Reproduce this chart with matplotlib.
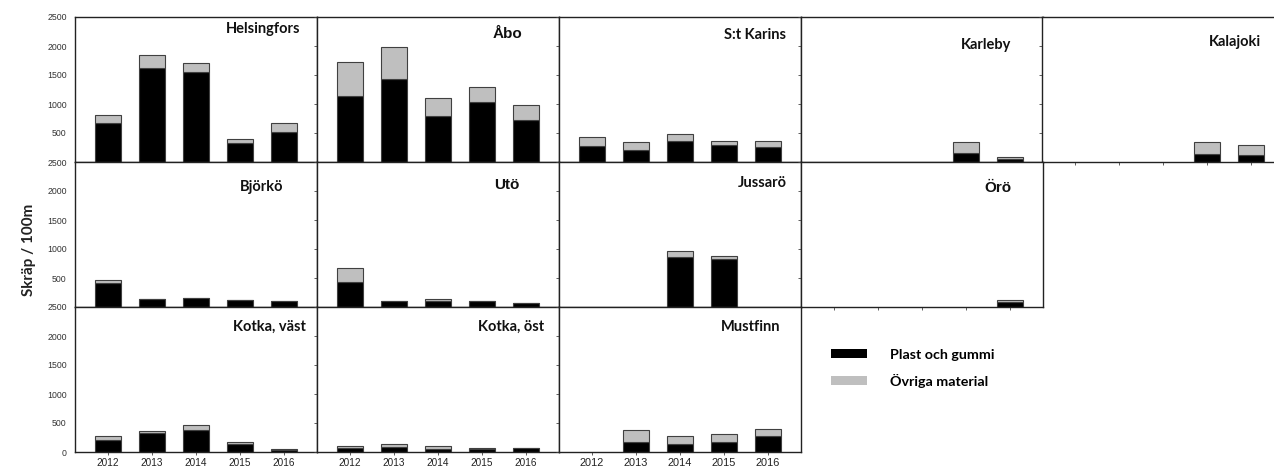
import matplotlib
matplotlib.use("Agg")
import matplotlib.pyplot as plt
from matplotlib.patches import Patch
import numpy as np

nan = np.nan

years = [2012, 2013, 2014, 2015, 2016]

# skräp per 100 m, black = plast och gummi, gray = övriga material
helsingfors_plast = [670, 1620, 1555, 330, 525]
helsingfors_ovriga = [145, 220, 160, 75, 145]
abo_plast = [1140, 1430, 800, 1035, 730]
abo_ovriga = [590, 555, 300, 250, 260]
st_karins_plast = [275, 200, 365, 300, 260]
st_karins_ovriga = [155, 145, 120, 60, 100]
karleby_plast = [nan, nan, nan, 160, 45]
karleby_ovriga = [nan, nan, nan, 185, 45]
kalajoki_plast = [nan, nan, nan, 145, 125]
kalajoki_ovriga = [nan, nan, nan, 200, 160]
bjorko_plast = [415, 130, 150, 115, 95]
bjorko_ovriga = [45, 8, 10, 6, 8]
uto_plast = [425, 100, 110, 100, 65]
uto_ovriga = [255, 5, 28, 5, 5]
jussaro_plast = [nan, nan, 860, 830, nan]
jussaro_ovriga = [nan, nan, 105, 50, nan]
oro_plast = [nan, nan, nan, nan, 85]
oro_ovriga = [nan, nan, nan, nan, 30]
kotka_vast_plast = [200, 325, 380, 130, 40]
kotka_vast_ovriga = [70, 35, 80, 50, 5]
kotka_ost_plast = [65, 90, 60, 55, 70]
kotka_ost_ovriga = [30, 55, 35, 20, 5]
mustfinn_plast = [nan, 180, 145, 180, 275]
mustfinn_ovriga = [nan, 200, 125, 125, 125]

# (name, plast, ovriga, row, col, title x, title y, title font)
panels = [
    ("Helsingfors", helsingfors_plast, helsingfors_ovriga, 0, 0, 0.93, 0.917, "Lato"),
    ("Åbo", abo_plast, abo_ovriga, 0, 1, 0.847, 0.88, "Liberation Sans"),
    ("S:t Karins", st_karins_plast, st_karins_ovriga, 0, 2, 0.94, 0.876, "Lato"),
    ("Karleby", karleby_plast, karleby_ovriga, 0, 3, 0.87, 0.807, "Lato"),
    ("Kalajoki", kalajoki_plast, kalajoki_ovriga, 0, 4, 0.905, 0.828, "Lato"),
    ("Björkö", bjorko_plast, bjorko_ovriga, 1, 0, 0.86, 0.828, "Lato"),
    ("Utö", uto_plast, uto_ovriga, 1, 1, 0.835, 0.84, "Liberation Sans"),
    ("Jussarö", jussaro_plast, jussaro_ovriga, 1, 2, 0.94, 0.855, "Lato"),
    ("Örö", oro_plast, oro_ovriga, 1, 3, 0.87, 0.82, "Liberation Sans"),
    ("Kotka, väst", kotka_vast_plast, kotka_vast_ovriga, 2, 0, 0.955, 0.862, "Lato"),
    ("Kotka, öst", kotka_ost_plast, kotka_ost_ovriga, 2, 1, 0.938, 0.862, "Lato"),
    ("Mustfinn", mustfinn_plast, mustfinn_ovriga, 2, 2, 0.913, 0.862, "Lato"),
]

W, H = 1274, 468
fig = plt.figure(figsize=(W / 100, H / 100), dpi=100)

col_left = [75, 317, 559, 801, 1042]
row_top = [17, 162, 307]
pw, ph = 242, 145

black = "#000000"
gray = "#bfbfbf"
edge = "#404040"

for name, plast, ovriga, r, c, tx, ty, tfont in panels:
    ax = fig.add_axes([col_left[c] / W, 1 - (row_top[r] + ph) / H, pw / W, ph / H])
    x = np.arange(len(years))
    p = np.array(plast, dtype=float)
    o = np.array(ovriga, dtype=float)
    ok = ~np.isnan(p)
    ax.bar(x[ok], p[ok], width=0.6, color=black, edgecolor=edge, linewidth=0.8)
    ax.bar(x[ok], o[ok], bottom=p[ok], width=0.6, color=gray, edgecolor=edge, linewidth=0.8)
    ax.set_xlim(-0.75, 4.75)
    ax.set_ylim(0, 2500)
    ax.set_yticks([0, 500, 1000, 1500, 2000, 2500])
    ax.set_xticks(x)
    for s in ax.spines.values():
        s.set_color("#222222")
        s.set_linewidth(1.0)
    ax.tick_params(axis="both", length=2.5, width=0.6, color="#444444", direction="out")
    if c == 0:
        if r == 0:
            ylabels = ["2500", "500", "1000", "1500", "2000", "2500"]
        elif r == 1:
            ylabels = ["2500", "500", "1000", "1500", "2000", ""]
        else:
            ylabels = ["0", "500", "1000", "1500", "2000", ""]
        ax.set_yticklabels(ylabels, fontsize=6.3, family="Liberation Sans", color="#333333")
        ax.tick_params(axis="y", length=0, pad=6)
    else:
        ax.set_yticklabels([])
    if r == 2:
        fs = 7.9 if name == "Mustfinn" else 7.2
        ax.set_xticklabels([str(y) for y in years], fontsize=fs, family="Liberation Sans", color="#222222")
        ax.tick_params(axis="x", pad=2)
    else:
        ax.set_xticklabels([])
    ax.text(tx, ty, name, transform=ax.transAxes, ha="right", va="center",
            fontsize=10.5 if tfont == "Lato" else 11, fontweight="bold", family=tfont, color="#111111")

fig.text(29 / W, 1 - 250 / H, "Skräp / 100m", rotation=90, ha="center", va="center",
         fontsize=11, fontweight="bold", family="Lato", color="#222222")

handles = [Patch(facecolor=black, edgecolor="none"), Patch(facecolor=gray, edgecolor="none")]
fig.legend(handles, ["Plast och gummi", "Övriga material"], loc="upper left",
           bbox_to_anchor=(818 / W, 1 - 336 / H), frameon=False, handlelength=2.5,
           handleheight=0.6, handletextpad=1.65, labelspacing=0.9,
           prop={"family": "Lato", "weight": "bold", "size": 10.3})

fig.savefig("out.png", dpi=100, facecolor="white")
